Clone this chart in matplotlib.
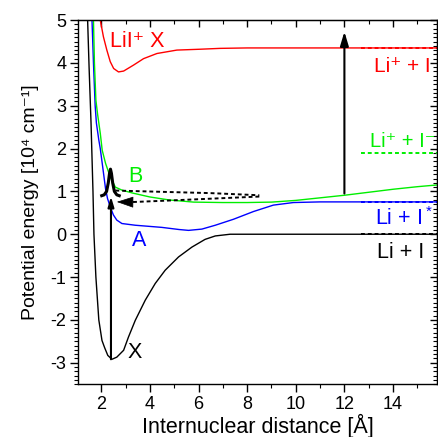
import matplotlib
matplotlib.use('Agg')
import matplotlib.pyplot as plt
from matplotlib.ticker import MultipleLocator, NullFormatter

plt.rcParams['font.family'] = ['Liberation Sans', 'DejaVu Sans']
plt.rcParams['mathtext.default'] = 'regular'
plt.rcParams['axes.unicode_minus'] = False

# potential curves (R in Angstrom, E in 10^4 cm-1)
r_X = [1.44, 1.50, 1.58, 1.66, 1.70, 1.78, 1.90, 2.03, 2.14, 2.27, 2.44, 2.64, 2.92, 3.12,
       3.40, 3.81, 4.22, 4.63, 5.18, 5.73, 6.27, 6.69, 7.3, 9.0, 15.8]
e_X = [5.0, 3.9, 2.6, 1.0, 0.0, -1.0, -2.0, -2.48, -2.65, -2.83, -2.92, -2.87, -2.71, -2.40,
       -2.01, -1.54, -1.15, -0.84, -0.53, -0.30, -0.12, -0.04, 0.0, 0.0, 0.0]

r_A = [1.62, 1.68, 1.75, 1.80, 1.90, 1.96, 2.06, 2.18, 2.26, 2.37, 2.50, 2.64, 2.85, 3.40,
       4.49, 5.20, 5.59, 6.14, 6.69, 7.44, 8.26, 9.08, 9.9, 11.0, 15.8]
e_A = [5.0, 4.0, 3.0, 2.6, 2.2, 2.0, 1.57, 1.05, 0.83, 0.64, 0.45, 0.33, 0.25, 0.21,
       0.16, 0.11, 0.09, 0.12, 0.21, 0.35, 0.53, 0.68, 0.74, 0.755, 0.755]

r_B = [1.68, 1.72, 1.78, 1.85, 1.96, 2.04, 2.18, 2.37, 2.58, 2.85, 3.3, 4.0, 4.8, 5.8,
       7.0, 8.0, 9.0, 10.0, 11.0, 12.0, 13.0, 14.0, 15.0, 15.8]
e_B = [5.0, 4.0, 3.13, 2.8, 2.36, 1.96, 1.65, 1.34, 1.10, 1.03, 0.96, 0.87, 0.80, 0.75,
       0.74, 0.74, 0.75, 0.79, 0.85, 0.91, 0.98, 1.05, 1.11, 1.15]

r_ion = [1.96, 2.09, 2.23, 2.37, 2.51, 2.71, 2.92, 3.33, 3.74, 4.29, 5.11, 6.07, 6.89, 8.0, 15.8]
e_ion = [5.0, 4.61, 4.30, 4.03, 3.87, 3.79, 3.81, 3.95, 4.10, 4.22, 4.30, 4.32, 4.34, 4.35, 4.35]

# dissociation limits (dashed stubs on the right)
r_lim = [12.7, 15.8]
e_lim_ion = 4.35
e_lim_ionpair = 1.89
e_lim_Istar = 0.755
e_lim_ground = 0.0

# wave packet and the round trip of the B state
r_wp = [2.02, 2.12, 2.22, 2.29, 2.34, 2.38, 2.42, 2.47, 2.54, 2.64, 2.74]
e_wp = [0.90, 0.92, 1.00, 1.20, 1.42, 1.52, 1.42, 1.20, 1.00, 0.92, 0.90]
r_out = [2.58, 4.5, 6.5, 8.5]
e_out = [1.02, 0.99, 0.96, 0.91]
r_back = [8.5, 6.5, 4.5, 3.2]
e_back = [0.88, 0.83, 0.78, 0.75]

red = '#ff0000'
green = '#00ee00'
blue = '#0000ff'

fig = plt.figure(figsize=(4.39, 4.37), dpi=100)
ax = fig.add_axes([0.178, 0.121, 0.817, 0.833])

ax.plot(r_X, e_X, color='black', lw=1.0)
ax.plot(r_A, e_A, color=blue, lw=1.0)
ax.plot(r_B, e_B, color=green, lw=1.0)
ax.plot(r_ion, e_ion, color=red, lw=1.0)

ax.plot(r_lim, [e_lim_ion] * 2, color=red, lw=1.4, ls=(0, (2, 1.5)))
ax.plot(r_lim, [e_lim_ionpair] * 2, color=green, lw=1.4, ls=(0, (2, 1.5)))
ax.plot(r_lim, [e_lim_Istar] * 2, color=blue, lw=1.4, ls=(0, (2, 1.5)))
ax.plot(r_lim, [e_lim_ground] * 2, color='black', lw=1.4, ls=(0, (2, 1.5)))

# pump arrow X -> B and wave packet
ax.annotate('', xy=(2.40, 0.88), xytext=(2.40, -2.92),
            arrowprops=dict(arrowstyle='-|>,head_length=0.5,head_width=0.15',
                            mutation_scale=12, color='black', lw=1.5, shrinkA=0, shrinkB=0))
ax.plot(r_wp, e_wp, color='black', lw=2.2)
ax.plot(r_out, e_out, color='black', lw=1.4, ls=(0, (2, 1.5)))
ax.plot(r_back, e_back, color='black', lw=1.4, ls=(0, (2, 1.5)))
ax.annotate('', xy=(2.64, 0.755), xytext=(3.2, 0.75),
            arrowprops=dict(arrowstyle='-|>,head_length=0.9,head_width=0.3',
                            mutation_scale=12, color='black', lw=0.5, shrinkA=0, shrinkB=0))

# probe arrow to the ion
ax.annotate('', xy=(12.0, 4.73), xytext=(12.0, 0.95),
            arrowprops=dict(arrowstyle='-|>,head_length=0.6,head_width=0.18',
                            mutation_scale=14, color='black', lw=1.5, shrinkA=0, shrinkB=0))

fs = 15.5
ax.text(2.37, 4.37, 'LiI⁺ X', color=red, fontsize=fs)
ax.text(13.2, 3.79, 'Li⁺ + I', color=red, fontsize=15)
ax.text(13.05, 2.04, 'Li⁺ + I⁻', color=green, fontsize=14.5)
ax.text(13.26, 0.21, r'Li + I$^*$', color=blue, fontsize=fs)
ax.text(13.33, -0.545, 'Li + I', color='black', fontsize=fs)
ax.text(3.12, 1.22, 'B', color=green, fontsize=fs)
ax.text(3.26, -0.28, 'A', color=blue, fontsize=fs)
ax.text(3.10, -2.89, 'X', color='black', fontsize=fs)

ax.set_xlim(1.05, 15.8)
ax.set_ylim(-3.5, 5)
ax.set_xticks([2, 4, 6, 8, 10, 12, 14])
ax.xaxis.set_minor_locator(MultipleLocator(1))
ax.set_yticks([-3, -2, -1, 0, 1, 2, 3, 4, 5])
ax.yaxis.set_minor_locator(MultipleLocator(0.1))
ax.tick_params(which='major', direction='out', length=5.5, width=1.0, labelsize=13, pad=3)
ax.tick_params(which='minor', direction='out', length=3, width=0.8)

top = ax.secondary_xaxis('top')
top.set_xticks([2, 4, 6, 8, 10, 12, 14])
top.xaxis.set_minor_locator(MultipleLocator(1))
top.xaxis.set_major_formatter(NullFormatter())
top.tick_params(which='major', direction='in', length=5, width=1.0)
top.tick_params(which='minor', direction='in', length=3, width=0.8)

right = ax.secondary_yaxis('right')
right.set_yticks([-3, -2, -1, 0, 1, 2, 3, 4, 5])
right.yaxis.set_minor_locator(MultipleLocator(0.1))
right.yaxis.set_major_formatter(NullFormatter())
right.tick_params(which='major', direction='in', length=5, width=1.0)
right.tick_params(which='minor', direction='in', length=3, width=0.8)

for sp in ax.spines.values():
    sp.set_linewidth(1.0)

ax.set_xlabel('Internuclear distance [Å]', fontsize=15.5, labelpad=1)
ax.set_ylabel('Potential energy [10⁴ cm⁻¹]', fontsize=14, labelpad=8)

fig.savefig('out.png', dpi=100)
